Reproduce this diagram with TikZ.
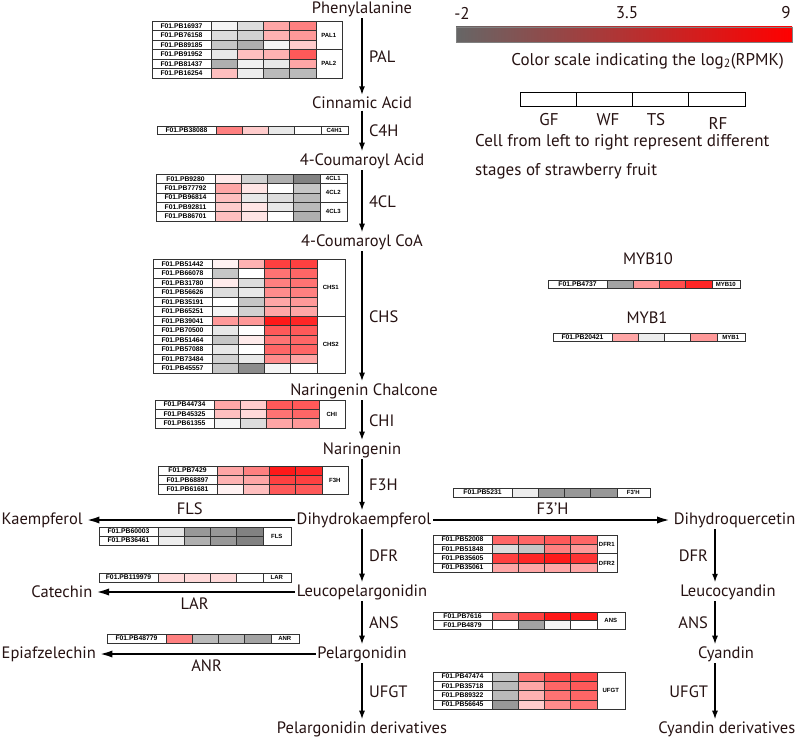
\documentclass[tikz,border=0pt]{standalone}
\usepackage{fontspec}
\setmainfont{PT Sans}
\newfontfamily\cellfont{Liberation Sans}
\usetikzlibrary{arrows.meta, positioning}

\definecolor{ink}{RGB}{38,18,18}
\colorlet{lo}{black!60}
\colorlet{hi}{red}

\tikzset{
  met/.style={font=\fontsize{16.5}{20}\selectfont, text=ink, inner sep=1.5pt},
  enz/.style={met, inner sep=0pt},
  legend/.style={font=\fontsize{17}{20}\selectfont, text=ink, inner sep=0pt},
  flow/.style={-{Latex[length=9pt,width=6pt]}, line width=2pt},
  side/.style={-{Latex[length=15pt,width=7pt]}, line width=2.8pt},
  hmline/.style={draw=black!80, line width=0.6pt},
  gene/.style={font=\cellfont\bfseries\fontsize{6.8}{7}\selectfont, inner sep=0pt},
  tag/.style={font=\cellfont\bfseries\fontsize{6}{7}\selectfont, inner sep=0pt},
}

% heatmap helpers: \hmset{x}{y}{row height}, rows and gene-family tags
\newcommand\hmset[3]{\def\hx{#1}\def\hy{#2}\def\hh{#3}}
\newcommand\hmrow[3]{%
  \pgfmathsetmacro\ry{\hy+\hh*#1}
  \draw[hmline, fill=white] (\hx,\ry) rectangle ++(59,\hh);
  \node[gene] at (\hx+29.5,\ry+\hh/2) {F01.PB#2};
  \foreach \v [count=\col from 0] in {#3}{
    \ifdim\v pt<0pt \pgfmathtruncatemacro\gv{min(95,-1.5*\v)}\def\hc{lo!\gv!white}%
    \else\def\hc{hi!\v!white}\fi
    \draw[hmline, fill=\hc] (\hx+59+26.2*\col,\ry) rectangle ++(26.2,\hh);
  }
}
\newcommand\hmtag[4]{%
  \pgfmathsetmacro\ry{\hy+\hh*#1}
  \draw[hmline, fill=white] (\hx+163.8,\ry) rectangle ++(#3,\hh*#2);
  \node[tag] at (\hx+163.8+#3/2,\ry+\hh*#2/2) {#4};
}

\begin{document}
\begin{tikzpicture}[x=1pt, y=-1pt]
\useasboundingbox (0,0) rectangle (797,741);

% main route
\node[met] (phe) at (362,9) {Phenylalanine};
\node[met] (cin) at (362,103) {Cinnamic Acid};
\node[met] (cou) at (362,161) {4-Coumaroyl Acid};
\node[met] (coa) at (362,242) {4-Coumaroyl CoA};
\node[met] (nch) at (364,391) {Naringenin Chalcone};
\node[met] (nar) at (362,450) {Naringenin};
\node[met] (dhk) at (364,520) {Dihydrokaempferol};
\node[met] (lpg) at (362,592) {Leucopelargonidin};
\node[met] (pg) at (362,654) {Pelargonidin};
\node[met] (pgd) at (362,729) {Pelargonidin derivatives};

% side products
\node[met, anchor=west] (kae) at (0,520) {Kaempferol};
\node[met, anchor=east] (cat) at (94,592) {Catechin};
\node[met, anchor=west] (epi) at (0,654) {Epiafzelechin};

% cyanidin branch
\node[met, anchor=east] (dhq) at (797,520) {Dihydroquercetin};
\node[met] (lcy) at (728,592) {Leucocyandin};
\node[met] (cya) at (726,654) {Cyandin};
\node[met, anchor=east] (cyd) at (797,729) {Cyandin derivatives};
\coordinate (rx) at (715,0);

\draw[flow] (phe) -- node[enz, right=6pt]{PAL} (cin);
\draw[flow] (cin) -- node[enz, right=6pt]{C4H} (cou);
\draw[flow] (cou) -- node[enz, right=6pt]{4CL} (coa);
\draw[flow] (coa) -- node[enz, right=6pt]{CHS} (nch.north -| coa);
\draw[flow] (nch.south -| nar) -- node[enz, right=6pt]{CHI} (nar);
\draw[flow] (nar) -- node[enz, right=6pt]{F3H} (dhk.north -| nar);
\draw[flow] (dhk.south -| lpg) -- node[enz, right=6pt]{DFR} (lpg);
\draw[flow] (lpg) -- node[enz, right=6pt]{ANS} (pg);
\draw[flow] (pg) -- node[enz, right=6pt]{UFGT} (pgd);

\draw[flow] (dhq.south -| rx) -- node[enz, left=6pt]{DFR} (lcy.north -| rx);
\draw[flow] (lcy.south -| rx) -- node[enz, left=6pt]{ANS} (cya.north -| rx);
\draw[flow] (cya.south -| rx) -- node[enz, left=6pt]{UFGT} (cyd.north -| rx);

\draw[side] (dhk) -- node[enz, above=4pt]{FLS} (kae);
\draw[side] (dhk) -- node[enz, above=4pt]{F3’H} (dhq);
\draw[side] (lpg) -- node[enz, below=4pt]{LAR} (cat);
\draw[side] (pg) -- node[enz, below=4pt]{ANR} (epi);

% PAL
\hmset{152}{21}{9.5}
\hmrow{0}{16937}{-5,-15,35,50}
\hmrow{1}{76158}{-15,-20,30,40}
\hmrow{2}{89185}{-25,-35,-5,20}
\hmrow{3}{91952}{-10,25,30,65}
\hmrow{4}{81437}{-35,-6,-10,35}
\hmrow{5}{16254}{25,-8,-30,-30}
\hmtag{0}{3}{26}{PAL1}
\hmtag{3}{3}{26}{PAL2}

% C4H
\hmset{157}{126}{8.5}
\hmrow{0}{38088}{50,20,-10,0}
\hmtag{0}{1}{27}{C4H1}

% 4CL
\hmset{156}{174}{9.4}
\hmrow{0}{9280}{8,-20,-35,-55}
\hmrow{1}{77792}{35,10,0,-25}
\hmrow{2}{96814}{25,-10,-15,-30}
\hmrow{3}{92811}{20,10,-10,-30}
\hmrow{4}{86701}{25,10,0,-35}
\hmtag{0}{1}{27}{4CL1}
\hmtag{1}{2}{27}{4CL2}
\hmtag{3}{2}{27}{4CL3}

% CHS
\hmset{153}{259}{9.5}
\hmrow{0}{51442}{5,30,75,75}
\hmrow{1}{66078}{-25,0,55,60}
\hmrow{2}{31780}{8,-15,50,55}
\hmrow{3}{56626}{-15,-10,45,50}
\hmrow{4}{35191}{0,-25,35,40}
\hmrow{5}{65251}{-5,-20,35,35}
\hmrow{6}{39041}{40,40,90,85}
\hmrow{7}{70500}{-10,0,65,65}
\hmrow{8}{51464}{-25,8,55,60}
\hmrow{9}{57088}{-10,0,60,60}
\hmrow{10}{73484}{-20,-10,45,35}
\hmrow{11}{45557}{-25,-50,-5,0}
\hmtag{0}{6}{28}{CHS1}
\hmtag{6}{6}{28}{CHS2}

% CHI
\hmset{155}{400}{9.3}
\hmrow{0}{44734}{35,20,65,65}
\hmrow{1}{45325}{25,15,55,60}
\hmrow{2}{61355}{-5,-15,35,40}
\hmtag{0}{3}{26}{CHI}

% F3H
\hmset{158}{466}{9.3}
\hmrow{0}{7429}{35,50,90,85}
\hmrow{1}{68897}{30,35,75,75}
\hmrow{2}{61681}{5,25,65,65}
\hmtag{0}{3}{26}{F3H}

% F3'H
\hmset{453}{488}{9}
\hmrow{0}{5231}{-8,-45,-45,-45}
\hmtag{0}{1}{33}{F3'H}

% FLS, LAR, ANR
\hmset{99}{527}{9}
\hmrow{0}{60003}{-12,-45,-45,-55}
\hmrow{1}{36461}{-8,-35,-45,-55}
\hmtag{0}{2}{28}{FLS}
\hmset{99}{573}{9}
\hmrow{0}{119979}{15,15,15,0}
\hmtag{0}{1}{28}{LAR}
\hmset{107}{634}{9}
\hmrow{0}{48779}{50,-30,-30,-40}
\hmtag{0}{1}{28}{ANR}

% DFR, ANS, UFGT
\hmset{433}{535}{9.3}
\hmrow{0}{52008}{60,60,65,60}
\hmrow{1}{51848}{-15,-25,50,40}
\hmrow{2}{35605}{75,85,90,80}
\hmrow{3}{35061}{35,35,35,35}
\hmtag{0}{2}{20}{DFR1}
\hmtag{2}{2}{20}{DFR2}
\hmset{433}{612}{8.7}
\hmrow{0}{7616}{55,75,90,90}
\hmrow{1}{4879}{0,-40,-5,0}
\hmtag{0}{2}{28}{ANS}
\hmset{433}{672}{9.3}
\hmrow{0}{47474}{-25,55,70,70}
\hmrow{1}{35718}{-30,35,60,65}
\hmrow{2}{89322}{-30,30,55,60}
\hmrow{3}{56645}{-45,20,45,55}
\hmtag{0}{4}{28}{UFGT}

% MYB
\node[met] (myb10) at (648,259) {MYB10};
\hmset{548}{280}{8.5}
\hmrow{0}{4737}{-40,40,70,85}
\hmtag{0}{1}{28}{MYB10}
\node[met] (myb1) at (647,318) {MYB1};
\hmset{553}{333}{8.5}
\hmrow{0}{20421}{35,-8,0,40}
\hmtag{0}{1}{28}{MYB1}

% legend
\shadedraw[left color=lo, middle color=white, right color=hi, draw=black!50] (456,27) rectangle (792,42);
\node[legend] (lmin) at (462,13) {-2};
\node[legend] (lmid) at (627,13) {3.5};
\node[legend] (lmax) at (786,13) {9};
\node[legend, anchor=east] (lcap) at (784,61) {Color scale indicating the log\textsubscript{2}(RPMK)};
\foreach \s in {0,...,3}
  \draw[line width=1pt] (520+56.25*\s,93) rectangle ++(56.25,14);
\node[legend] (gf) at (549,120) {GF};
\node[legend] (wf) at (608,120) {WF};
\node[legend] (ts) at (656,120) {TS};
\node[legend] (rf) at (718,123) {RF};
\node[legend, anchor=west] (cell1) at (475,142) {Cell from left to right represent different};
\node[legend, anchor=west] (cell2) at (475,171) {stages of strawberry fruit};
\end{tikzpicture}
\end{document}
